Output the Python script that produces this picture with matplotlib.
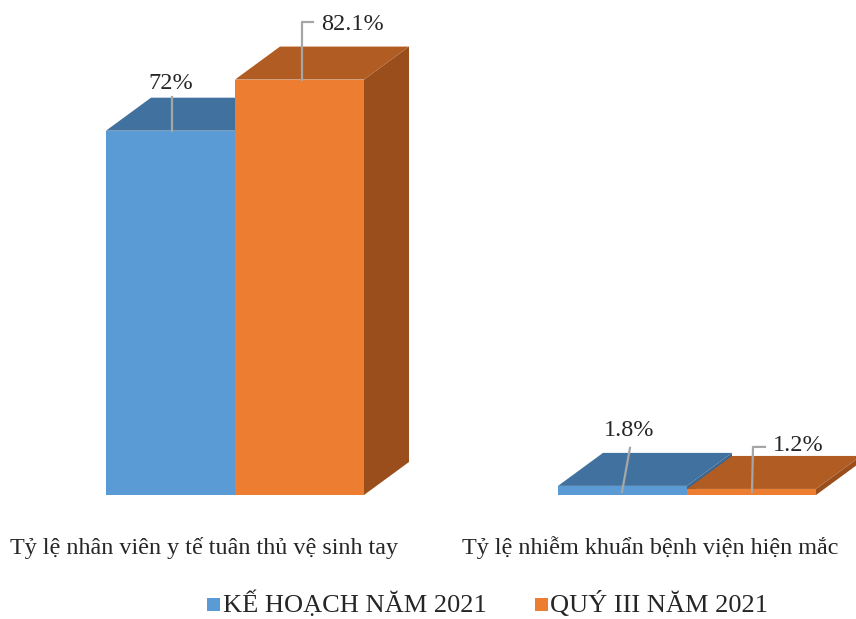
import matplotlib
matplotlib.use("Agg")
import matplotlib.pyplot as plt
from matplotlib.patches import Polygon

categories = ["Tỷ lệ nhân viên y tế tuân thủ vệ sinh tay",
              "Tỷ lệ nhiễm khuẩn bệnh viện hiện mắc"]
series_names = ["KẾ HOẠCH NĂM 2021", "QUÝ III NĂM 2021"]
plan_values = [72.0, 1.8]
q3_values = [82.1, 1.2]
value_labels_plan = ["72%", "1.8%"]
value_labels_q3 = ["82.1%", "1.2%"]

W, H = 856, 619
fig = plt.figure(figsize=(W / 100, H / 100), dpi=100)
ax = fig.add_axes([0, 0, 1, 1])

# scales: x in group units (452 px per group), y in percent (5.06 px per %)
pxx = 452.0
pxy = 5.06
x0_px, y0_px = 235.0, 495.0
ax.set_xlim(-x0_px / pxx, (W - x0_px) / pxx)
ax.set_ylim(-(H - y0_px) / pxy, y0_px / pxy)
ax.axis("off")

bw = 129.0 / pxx
ddx = 45.0 / pxx
ddy = 33.0 / pxy

FONT = "Liberation Serif"
TXT = "#262626"

colors = {
    0: dict(front="#5B9BD5", top="#41729F", side="#3A6690"),
    1: dict(front="#ED7D31", top="#B05C22", side="#9A4E1C"),
}


def bar3d(xl, h, c):
    xr = xl + bw
    front = Polygon([(xl, 0), (xr, 0), (xr, h), (xl, h)], closed=True,
                    facecolor=c["front"], edgecolor="none")
    top = Polygon([(xl, h), (xr, h), (xr + ddx, h + ddy), (xl + ddx, h + ddy)],
                  closed=True, facecolor=c["top"], edgecolor="none")
    side = Polygon([(xr, 0), (xr + ddx, ddy), (xr + ddx, h + ddy), (xr, h)],
                   closed=True, facecolor=c["side"], edgecolor="none")
    for p in (side, top, front):
        ax.add_patch(p)


lc = "#A6A6A6"
for i in range(len(categories)):
    bar3d(i - bw, plan_values[i], colors[0])
    bar3d(i, q3_values[i], colors[1])

# value labels with leader lines
# group 1
ax.plot([-63 / pxx, -63 / pxx], [plan_values[0], plan_values[0] + 34 / pxy],
        color=lc, lw=1.6)
ax.text(-64 / pxx, plan_values[0] + 47 / pxy, value_labels_plan[0],
        ha="center", va="center", fontsize=17.5, family=FONT, color=TXT)
ax.plot([67 / pxx, 67 / pxx, 78 / pxx],
        [q3_values[0], q3_values[0] + 58 / pxy, q3_values[0] + 58 / pxy],
        color=lc, lw=1.6)
ax.text(86 / pxx, q3_values[0] + 55 / pxy, value_labels_q3[0],
        ha="left", va="center", fontsize=17.5, family=FONT, color=TXT)
# group 2
ax.plot([1 - 65 / pxx, 1 - 57 / pxx],
        [plan_values[1] - 1.2, plan_values[1] + 38 / pxy], color=lc, lw=1.6)
ax.text(1 - 58 / pxx, plan_values[1] + 55 / pxy, value_labels_plan[1],
        ha="center", va="center", fontsize=17.5, family=FONT, color=TXT)
ax.plot([1 + 65 / pxx, 1 + 66 / pxx, 1 + 78 / pxx],
        [q3_values[1] - 0.6, q3_values[1] + 42 / pxy, q3_values[1] + 42 / pxy],
        color=lc, lw=1.6)
ax.text(1 + 86 / pxx, q3_values[1] + 43 / pxy, value_labels_q3[1],
        ha="left", va="center", fontsize=17.5, family=FONT, color=TXT)

# category labels
cat_x = [-31 / pxx, 1 - 37 / pxx]
for i, lab in enumerate(categories):
    ax.text(cat_x[i], -53 / pxy, lab, ha="center", va="center",
            fontsize=17.4, family=FONT, color=TXT)

# legend
leg_y = -109 / pxy
sq = 13
for sx, tx, name, c in [(207, 223, series_names[0], colors[0]["front"]),
                        (535, 550, series_names[1], colors[1]["front"])]:
    l = (sx - x0_px) / pxx
    r = (sx + sq - x0_px) / pxx
    ax.add_patch(Polygon([(l, leg_y - sq / 2 / pxy), (r, leg_y - sq / 2 / pxy),
                          (r, leg_y + sq / 2 / pxy), (l, leg_y + sq / 2 / pxy)],
                         facecolor=c, edgecolor="none"))
    ax.text((tx - x0_px) / pxx, leg_y, name, ha="left", va="center",
            fontsize=19.0, family=FONT, color=TXT)

fig.savefig("out.png", dpi=100, facecolor="white")
